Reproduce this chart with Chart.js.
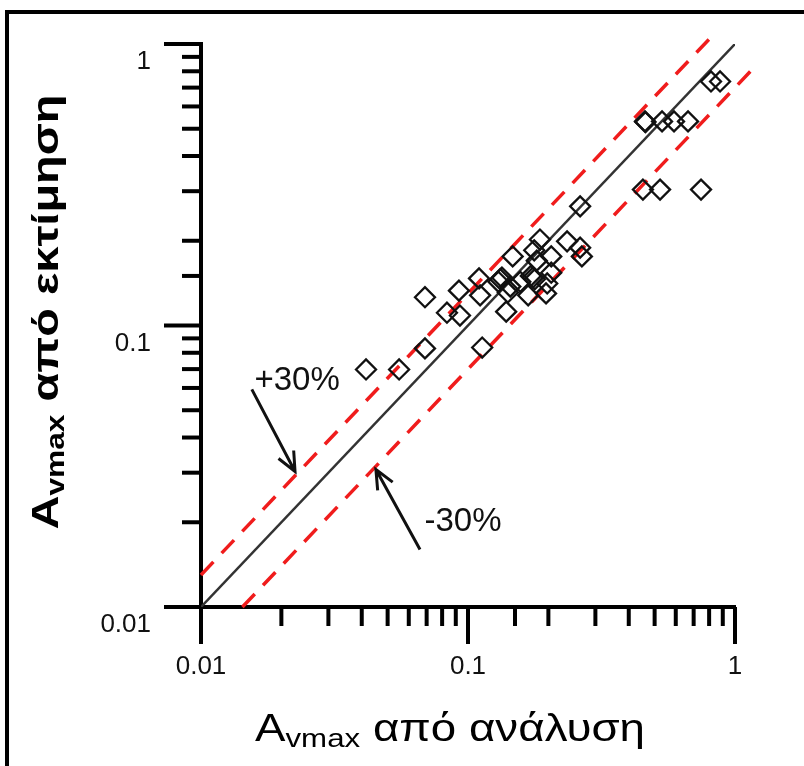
<!DOCTYPE html>
<html>
<head>
<meta charset="utf-8">
<script src="https://cdn.jsdelivr.net/npm/chart.js@4.4.0/dist/chart.umd.min.js"></script>
<style>
  html, body { margin: 0; padding: 0; background: #fff; }
  #wrap { width: 804px; height: 766px; }
</style>
</head>
<body>
<div id="wrap"><canvas id="chart"></canvas></div>
<script>
// A_vmax from analysis (x) and from estimate (y)
const analysis = [0.0415, 0.0552, 0.069, 0.113, 0.069, 0.0834, 0.0933, 0.0925, 0.111, 0.110,
  0.132, 0.130, 0.134, 0.144, 0.147, 0.139, 0.141, 0.157, 0.168, 0.175, 0.172, 0.178,
  0.186, 0.177, 0.181, 0.205, 0.205, 0.198, 0.196, 0.235, 0.267, 0.263, 0.263,
  0.460, 0.462, 0.533, 0.591, 0.667, 0.813, 0.879, 0.452, 0.524, 0.746];
const estimate = [0.0698, 0.0698, 0.0829, 0.0835, 0.126, 0.111, 0.1085, 0.133, 0.128, 0.147,
  0.146, 0.143, 0.148, 0.1375, 0.176, 0.112, 0.131, 0.143, 0.128, 0.148, 0.150, 0.146,
  0.202, 0.185, 0.170, 0.176, 0.154, 0.141, 0.130, 0.199, 0.176, 0.189, 0.265,
  0.531, 0.528, 0.531, 0.531, 0.531, 0.736, 0.736, 0.304, 0.304, 0.304];

// reference lines
const equalX = [0.01, 1];
const equalY = [0.01, 1];
const plusX = [0.01, 0.85];
const plusY = [0.013, 1.105];
const minusX = [0.01429, 1.15];
const minusY = [0.01, 0.805];

// axis labels shown
const xLabels = [0.01, 0.1, 1];
const yLabels = [0.01, 0.1, 1];

// annotations (+30% / -30%)
const bandText = ['+30%', '-30%'];
const bandTextX = [0.0229, 0.0958];
const bandTextY = [0.0633, 0.0201];
const arrowTailX = [0.0155, 0.0661];
const arrowTailY = [0.0593, 0.0160];
const arrowHeadX = [0.0225, 0.0452];
const arrowHeadY = [0.0303, 0.0308];

const FONT = "'Liberation Sans', Arial, sans-serif";

function pts(xs, ys) {
  return xs.map((x, i) => ({ x: x, y: ys[i] }));
}
function isDecade(v) {
  const l = Math.log10(v);
  return Math.abs(l - Math.round(l)) < 1e-6;
}
function labelFor(list) {
  return function (v) {
    return list.some(t => Math.abs(Math.log10(v / t)) < 1e-6) ? String(v) : '';
  };
}

// outer frame
const frame = {
  id: 'frame',
  beforeDraw(chart) {
    const ctx = chart.ctx;
    ctx.save();
    ctx.fillStyle = '#fff';
    ctx.fillRect(0, 0, chart.width, chart.height);
    ctx.strokeStyle = '#000';
    ctx.lineWidth = 4;
    ctx.strokeRect(7, 12, chart.width + 20, chart.height + 20);
    ctx.restore();
  }
};

// major / minor tick marks drawn outward
const tickMarks = {
  id: 'tickMarks',
  afterDraw(chart) {
    const ctx = chart.ctx;
    const area = chart.chartArea;
    const xs = chart.scales.x, ys = chart.scales.y;
    ctx.save();
    ctx.strokeStyle = '#000';
    ctx.lineWidth = 4;
    xs.ticks.forEach(t => {
      const px = xs.getPixelForValue(t.value);
      const len = isDecade(t.value) ? 37 : 19;
      ctx.beginPath();
      ctx.moveTo(px, area.bottom);
      ctx.lineTo(px, area.bottom + len);
      ctx.stroke();
    });
    ys.ticks.forEach(t => {
      const py = ys.getPixelForValue(t.value);
      const len = isDecade(t.value) ? 37 : 19;
      ctx.beginPath();
      ctx.moveTo(area.left, py);
      ctx.lineTo(area.left - len, py);
      ctx.stroke();
    });
    ctx.restore();
  }
};

// arrows and +/-30% labels
const bands = {
  id: 'bands',
  afterDatasetsDraw(chart) {
    const ctx = chart.ctx;
    const xs = chart.scales.x, ys = chart.scales.y;
    ctx.save();
    ctx.strokeStyle = '#111';
    ctx.fillStyle = '#111';
    ctx.lineWidth = 3;
    for (let i = 0; i < bandText.length; i++) {
      const x1 = xs.getPixelForValue(arrowTailX[i]), y1 = ys.getPixelForValue(arrowTailY[i]);
      const x2 = xs.getPixelForValue(arrowHeadX[i]), y2 = ys.getPixelForValue(arrowHeadY[i]);
      const a = Math.atan2(y2 - y1, x2 - x1);
      ctx.beginPath();
      ctx.moveTo(x1, y1);
      ctx.lineTo(x2, y2);
      ctx.moveTo(x2 - 21 * Math.cos(a - 0.42), y2 - 21 * Math.sin(a - 0.42));
      ctx.lineTo(x2, y2);
      ctx.lineTo(x2 - 21 * Math.cos(a + 0.42), y2 - 21 * Math.sin(a + 0.42));
      ctx.stroke();
      ctx.font = '33px ' + FONT;
      ctx.textAlign = 'center';
      ctx.textBaseline = 'middle';
      ctx.fillText(bandText[i], xs.getPixelForValue(bandTextX[i]), ys.getPixelForValue(bandTextY[i]));
    }
    ctx.restore();
  }
};

// axis titles with subscript
function drawRich(ctx, parts, width) {
  let total = 0;
  parts.forEach(p => { ctx.font = p.font; p.w = ctx.measureText(p.text).width; total += p.w; });
  ctx.scale(width / total, 1);
  let x = -total / 2;
  parts.forEach(p => {
    ctx.font = p.font;
    ctx.fillText(p.text, x, p.dy);
    x += p.w;
  });
}
const titles = {
  id: 'titles',
  afterDraw(chart) {
    const ctx = chart.ctx;
    ctx.save();
    ctx.fillStyle = '#000';
    ctx.textAlign = 'left';
    ctx.textBaseline = 'alphabetic';
    ctx.translate(450, 741);
    drawRich(ctx, [
      { text: 'A', font: '38px ' + FONT, dy: 0 },
      { text: 'vmax', font: '26px ' + FONT, dy: 6 },
      { text: ' από ανάλυση', font: '38px ' + FONT, dy: 0 }
    ], 390);
    ctx.restore();

    ctx.save();
    ctx.fillStyle = '#000';
    ctx.textAlign = 'left';
    ctx.textBaseline = 'alphabetic';
    ctx.translate(58, 312);
    ctx.rotate(-Math.PI / 2);
    drawRich(ctx, [
      { text: 'A', font: 'bold 37px ' + FONT, dy: 0 },
      { text: 'vmax', font: 'bold 25px ' + FONT, dy: 6 },
      { text: ' από εκτίμηση', font: 'bold 37px ' + FONT, dy: 0 }
    ], 435);
    ctx.restore();
  }
};

new Chart(document.getElementById('chart'), {
  type: 'scatter',
  data: {
    datasets: [{
      label: 'data',
      data: pts(analysis, estimate),
      pointStyle: 'rectRot',
      pointRadius: 10,
      borderWidth: 2.3,
      borderColor: '#111',
      backgroundColor: 'rgba(0,0,0,0)',
      order: 0
    }, {
      label: '1:1',
      data: pts(equalX, equalY),
      showLine: true,
      pointRadius: 0,
      borderColor: '#333',
      borderWidth: 2.5,
      order: 1
    }, {
      label: '+30%',
      data: pts(plusX, plusY),
      showLine: true,
      pointRadius: 0,
      borderColor: '#f01c1c',
      borderWidth: 3.5,
      borderDash: [18, 12],
      clip: false,
      order: 2
    }, {
      label: '-30%',
      data: pts(minusX, minusY),
      showLine: true,
      pointRadius: 0,
      borderColor: '#f01c1c',
      borderWidth: 3.5,
      borderDash: [18, 12],
      clip: false,
      order: 2
    }]
  },
  options: {
    responsive: true,
    maintainAspectRatio: false,
    animation: false,
    events: [],
    layout: { padding: { left: 0, top: 44, right: 69, bottom: 0 } },
    plugins: {
      legend: { display: false },
      tooltip: { enabled: false }
    },
    scales: {
      x: {
        type: 'logarithmic',
        min: 0.01,
        max: 1,
        grid: { display: false, drawTicks: false },
        border: { display: true, color: '#000', width: 4 },
        ticks: {
          autoSkip: false,
          maxRotation: 0,
          padding: 44,
          color: '#111',
          font: { size: 26, family: FONT },
          callback: labelFor(xLabels)
        },
        afterFit(scale) {
          scale.height = 159;
          scale.paddingLeft = 0;
          scale.paddingRight = 0;
        }
      },
      y: {
        type: 'logarithmic',
        min: 0.01,
        max: 1,
        grid: { display: false, drawTicks: false },
        border: { display: true, color: '#000', width: 4 },
        ticks: {
          autoSkip: false,
          padding: 50,
          labelOffset: 18,
          color: '#111',
          font: { size: 26, family: FONT },
          callback: labelFor(yLabels)
        },
        afterFit(scale) {
          scale.width = 201;
          scale.paddingTop = 0;
          scale.paddingBottom = 0;
        }
      }
    }
  },
  plugins: [frame, tickMarks, bands, titles]
});
</script>
</body>
</html>
